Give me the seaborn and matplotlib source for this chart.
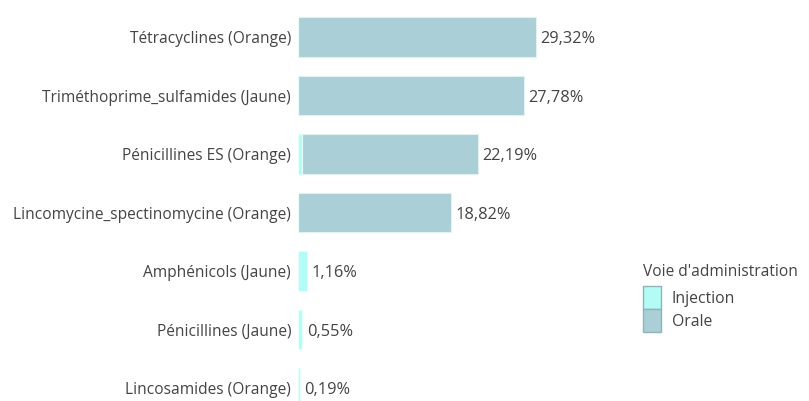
import matplotlib
matplotlib.use("Agg")
import matplotlib.pyplot as plt
import seaborn as sns
import pandas as pd
from matplotlib.patches import Patch

categories = ["Tétracyclines (Orange)", "Triméthoprime_sulfamides (Jaune)", "Pénicillines ES (Orange)",
              "Lincomycine_spectinomycine (Orange)", "Amphénicols (Jaune)", "Pénicillines (Jaune)",
              "Lincosamides (Orange)"]
injection = [0.0, 0.0, 0.50, 0.0, 1.16, 0.55, 0.19]
orale = [29.32, 27.78, 21.69, 18.82, 0.0, 0.0, 0.0]
totals_labels = ["29,32%", "27,78%", "22,19%", "18,82%", "1,16%", "0,55%", "0,19%"]

col_orale = "#aacfd6"
col_inj = "#b3fcf5"

sns.set_style("white")
plt.rcParams['font.family'] = ['Open Sans', 'DejaVu Sans']

df = pd.DataFrame({"cat": categories, "inj": injection, "ora": orale})
df["total"] = df["inj"] + df["ora"]

fig = plt.figure(figsize=(8.09, 4.01), dpi=100)
ax = fig.add_axes([298/809, 0, (640-298)/809, 1])

sns.barplot(data=df, y="cat", x="total", color=col_orale, saturation=1, width=0.68,
            edgecolor="#e4f1f3", linewidth=0.8, ax=ax, orient="h")
sns.barplot(data=df, y="cat", x="inj", color=col_inj, saturation=1, width=0.68,
            edgecolor="#e4fffc", linewidth=0.8, ax=ax, orient="h")

ax.set_xlim(0, (640-298)/8.12)
ax.set_ylim(6.22, -0.632)
for i, (t, lab) in enumerate(zip(df["total"], totals_labels)):
    ax.text(t + 0.55, i, lab, va="center_baseline", ha="left", fontsize=11.8, color="#444444")

ax.set_xlabel("")
ax.set_ylabel("")
ax.set_xticks([])
ax.tick_params(axis="y", length=0, pad=5, labelsize=11.2, labelcolor="#444444")
for s in ax.spines.values():
    s.set_visible(False)

handles = [Patch(facecolor=col_inj, edgecolor="#8fb3b8", label="Injection"),
           Patch(facecolor=col_orale, edgecolor="#8fb3b8", label="Orale")]
leg = fig.legend(handles=handles, title="Voie d'administration", loc="upper left",
                 bbox_to_anchor=(638/809, 1 - 259/401), frameon=False, fontsize=11.3,
                 title_fontsize=11.2, labelspacing=0.0, handlelength=1.15, handleheight=1.9,
                 handletextpad=0.7, alignment="left", borderaxespad=0, borderpad=0.3)
leg._legend_box.sep = 4.5
for t in leg.get_texts():
    t.set_color("#444444")
leg.get_title().set_color("#444444")

fig.savefig("out.png", dpi=100)
